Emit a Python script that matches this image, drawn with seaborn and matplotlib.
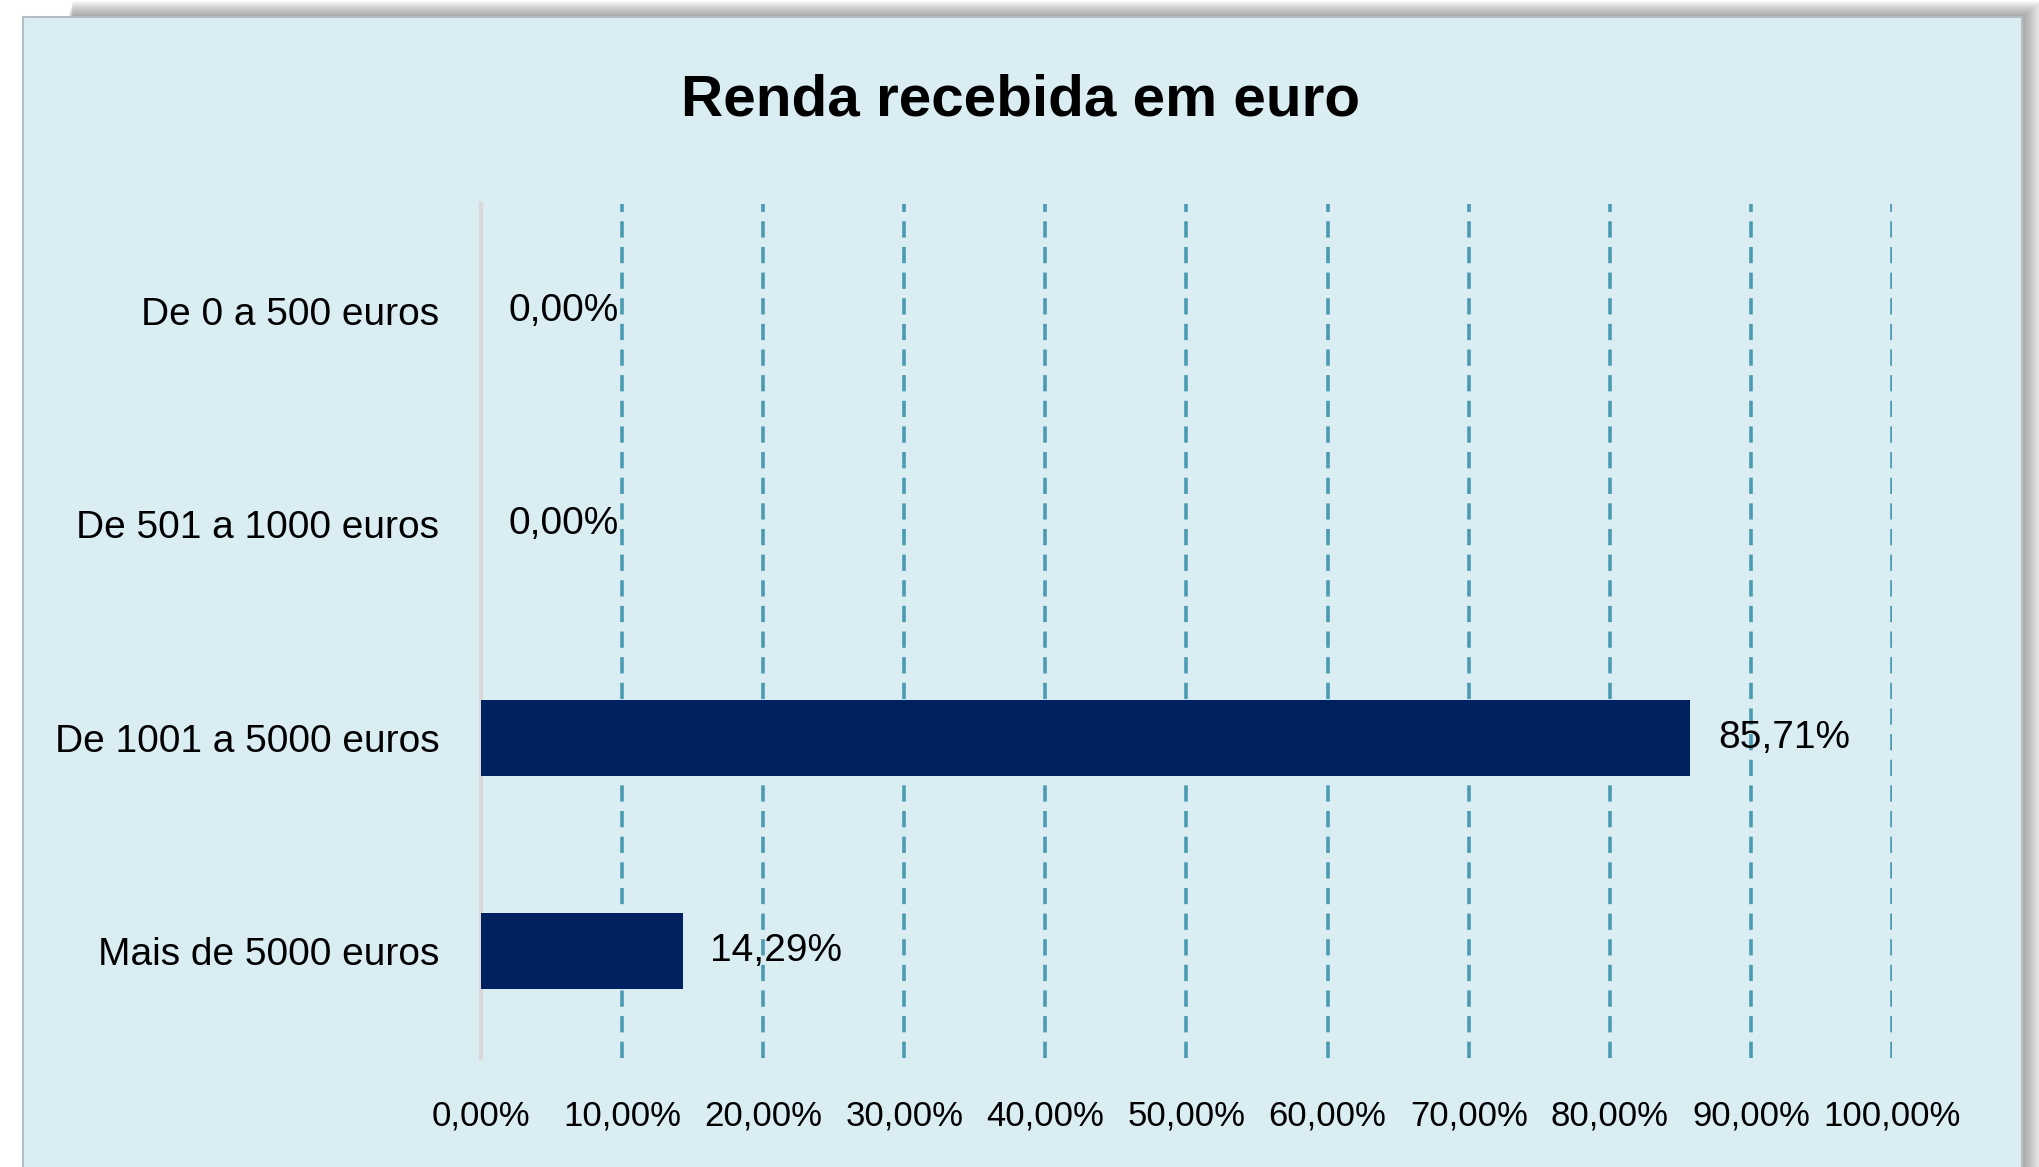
import numpy as np
import pandas as pd
import matplotlib
matplotlib.use("Agg")
import matplotlib.pyplot as plt
import seaborn as sns
from matplotlib.patches import Rectangle

# data
categories = ["De 0 a 500 euros", "De 501 a 1000 euros", "De 1001 a 5000 euros", "Mais de 5000 euros"]
values = [0.0, 0.0, 85.71, 14.29]
xticks = [0, 10, 20, 30, 40, 50, 60, 70, 80, 90, 100]

df = pd.DataFrame({"cat": categories, "val": values})

sns.set_style("white")
font_list = ["Liberation Sans", "DejaVu Sans"]
plt.rcParams["font.family"] = font_list

bg = "#DAEDF3"
navy = "#002060"
grid_col = "#4A9AB2"

fig = plt.figure(figsize=(20.4, 11.67), dpi=100)
fig.patch.set_facecolor("white")

# soft shadow behind the chart panel
W, H = 2040, 1167
px_l, px_r, px_t = 23, 2022, 17
for i in range(16, 0, -1):
    fig.patches.append(Rectangle(((px_l + 45 + i * 0.3) / W, -0.05),
                                 (px_r - px_l - 45 + i) / W, 1.05 - (px_t - i) / H,
                                 transform=fig.transFigure, facecolor="#555555",
                                 alpha=0.04, edgecolor="none", zorder=0))
fig.patches.append(Rectangle((px_l / W, -0.05), (px_r - px_l) / W, 1 - px_t / H + 0.05,
                             transform=fig.transFigure, facecolor=bg,
                             edgecolor="#B5BEC2", linewidth=1.5, zorder=1))

ax = fig.add_axes([481 / W, 1 - 1058 / H, (1892 - 481) / W, (1058 - 204) / H])
ax.set_facecolor("none")
ax.set_zorder(2)

sns.barplot(data=df, x="val", y="cat", orient="h", color=navy, width=0.355,
            saturation=1, linewidth=0, ax=ax, zorder=3)

ax.set_xlim(0, 100)
ax.set_ylim(3.5, -0.5)
ax.set_xticks(xticks)
ax.set_xticklabels([f"{t},00%" for t in xticks], fontsize=25, color="black")
ax.tick_params(axis="x", length=0, pad=30)
ax.tick_params(axis="y", length=0, pad=30, labelsize=28, labelcolor="black")
ax.set_xlabel("")
ax.set_ylabel("")

for t in xticks[1:]:
    ax.axvline(t, color=grid_col, linewidth=2.6, linestyle=(0, (4.5, 2.6)), zorder=1)

for side in ["top", "right", "bottom"]:
    ax.spines[side].set_visible(False)
ax.spines["left"].set_color("#D9D9D9")
ax.spines["left"].set_linewidth(3)

labels = [f"{v:.2f}".replace(".", ",") + "%" for v in values]
ax.bar_label(ax.containers[0], labels=labels, padding=20, fontsize=28, color="black")

fig.text(1021 / W, 1 - 100 / H, "Renda recebida em euro", ha="center", va="center",
         fontsize=42, fontweight="bold", color="black", family=font_list)

fig.savefig("out.png", dpi=100, facecolor="white")
